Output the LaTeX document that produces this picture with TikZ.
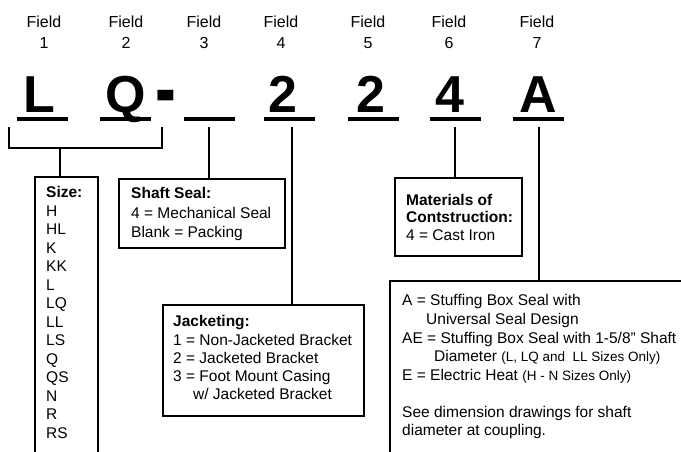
\documentclass[tikz,border=0pt]{standalone}
\usepackage{graphicx}
\usepackage{fontspec}
\setmainfont{Liberation Sans}
\newcommand\smtxt{\fontsize{13.5}{16}\selectfont}
\begin{document}
\begin{tikzpicture}[x=1pt,y=-1pt,
  lbl/.style={font=\fontsize{16}{19}\selectfont, anchor=base, inner sep=0pt},
  big/.style={font=\fontsize{52}{60}\selectfont\bfseries, anchor=base, inner sep=0pt},
  ul/.style={fill=black, draw=none, inner sep=0pt, minimum width=51pt, minimum height=3.2pt},
  box/.style={draw, line width=1.6pt, anchor=north west, inner sep=0pt},
  conn/.style={line width=1.6pt},
  txt/.style={font=\fontsize{15.5}{18.5}\selectfont, anchor=base west, inner sep=0pt},
  hdr/.style={font=\fontsize{15.5}{18.5}\selectfont\bfseries, anchor=base west, inner sep=0pt}
]
\useasboundingbox (0,0) rectangle (681,451);

% field labels
\foreach \n/\x in {1/44,2/126,3/204,4/281,5/368,6/449,7/537}{
  \node[lbl] (f\n) at (\x,27.3) {Field};
  \node[lbl] (n\n) at (\x,48) {\n};
}

% big code letters
\node[big] (c1) at (39,112) {L};
\node[big] (c2) at (126,112) {Q};
\node[big] (cd) at (166,112) {\raisebox{-6.8pt}{\scalebox{1.2}[1.7]{-}}};
\node[big] (c4) at (283,112) {2};
\node[big] (c5) at (371,112) {2};
\node[big] (c6) at (450,112) {4};
\node[big] (c7) at (538,112) {A};

% underlines
\node[ul] (u1) at (42,119) {};
\node[ul] (u2) at (125,119) {};
\node[ul] (u3) at (209,119) {};
\node[ul] (u4) at (289,119) {};
\node[ul] (u5) at (373,119) {};
\node[ul] (u6) at (455,119) {};
\node[ul] (u7) at (538,119) {};

% boxes
\node[box, minimum width=63pt, minimum height=320pt] (size) at (34,176) {};
\node[box, minimum width=166pt, minimum height=69pt] (shaft) at (118,178) {};
\node[box, minimum width=201pt, minimum height=111pt] (jack) at (162,304) {};
\node[box, minimum width=127pt, minimum height=78pt] (mat) at (394,177) {};
\node[box, minimum width=330pt, minimum height=220pt] (opt) at (389,280) {};

% connectors
\coordinate (bl) at (9,127);
\coordinate (br) at (162,127);
\coordinate (bm) at (60,148);
\draw[conn] (bl) -- ++(0,21) -| (br);
\draw[conn] (bm) -- (bm |- size.north);
\draw[conn] ([yshift=-6.5pt]u3.south) -- (u3.south |- shaft.north);
\draw[conn] ([xshift=3pt,yshift=-6.5pt]u4.south) -- ([xshift=3pt]u4.south |- jack.north);
\draw[conn] ([yshift=-6.5pt]u6.south) -- (u6.south |- mat.north);
\draw[conn] ([xshift=1pt,yshift=-6.5pt]u7.south) -- ([xshift=1pt]u7.south |- opt.north);

% size box text
\node[hdr] (sizeh) at (46,197.5) {Size:};
\foreach \s [count=\k from 0] in {H,HL,K,KK,L,LQ,LL,LS,Q,QS,N,R,RS}{
  \node[txt] (s\k) at (46,216.5+18.46*\k) {\s};
}

% shaft seal text
\node[hdr] (shh) at (131,198.3) {Shaft Seal:};
\node[txt] (sh1) at (131,218.3) {4 = Mechanical Seal};
\node[txt] (sh2) at (131,237.3) {Blank = Packing};

% jacketing text
\node[hdr] (jh) at (173,326.7) {Jacketing:};
\node[txt] (j1) at (173,345) {1 = Non-Jacketed Bracket};
\node[txt] (j2) at (173,363.3) {2 = Jacketed Bracket};
\node[txt] (j3) at (173,381.3) {3 = Foot Mount Casing};
\node[txt] (j4) at (193,399.3) {w/ Jacketed Bracket};

% materials text
\node[hdr] (mh1) at (406,205) {Materials of};
\node[hdr] (mh2) at (406,222) {Contstruction:};
\node[txt] (m1) at (406,240) {4 = Cast Iron};

% option text
\node[txt] (o1) at (402,305.5) {A = Stuffing Box Seal with};
\node[txt] (o2) at (426,324) {Universal Seal Design};
\node[txt] (o3) at (402,343) {AE = Stuffing Box Seal with 1-5/8" Shaft};
\node[txt] (o4) at (434,361) {Diameter {\smtxt (L, LQ and\ \ LL Sizes Only)}};
\node[txt] (o5) at (402,380) {E = Electric Heat {\smtxt (H - N Sizes Only)}};
\node[txt] (o6) at (402,417.5) {See dimension drawings for shaft};
\node[txt] (o7) at (402,435.5) {diameter at coupling.};
\end{tikzpicture}
\end{document}
